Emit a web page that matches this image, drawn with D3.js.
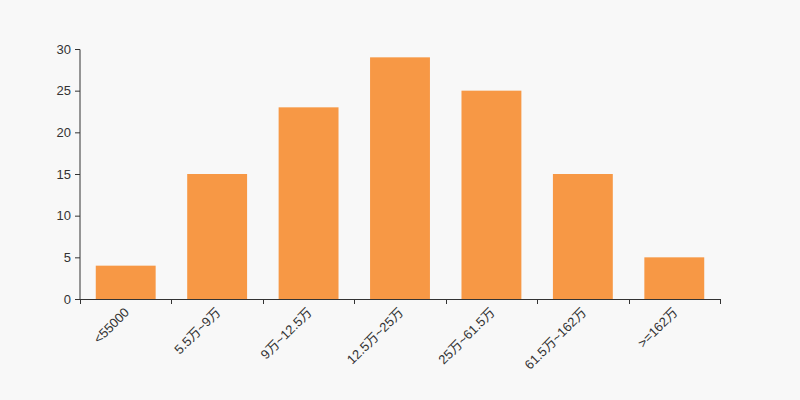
<!DOCTYPE html>
<html><head><meta charset="utf-8">
<script src="https://cdn.jsdelivr.net/npm/d3@7"></script>
<style>body{margin:0;background:#f8f8f8;}svg{display:block;font-family:"Liberation Sans",Arial,"Noto Sans CJK SC",sans-serif;}</style>
</head><body>
<svg id="c" width="800" height="400"></svg>
<script>
const categories = ["<55000","5.5万~9万","9万~12.5万","12.5万~25万","25万~61.5万","61.5万~162万",">=162万"];
const values = [4,15,23,29,25,15,5];
const yTicks = [0,5,10,15,20,25,30];

const svg = d3.select("#c");
svg.append("rect").attr("width",800).attr("height",400).attr("fill","#f8f8f8");
const m = {l:80, r:80, t:49, b:101};
const W = 800-m.l-m.r, H = 400-m.t-m.b;
const g = svg.append("g").attr("transform",`translate(${m.l},${m.t})`);
const x = d3.scaleBand().domain(categories).range([0,W]).paddingInner(0.345).paddingOuter(0.1725);
const y = d3.scaleLinear().domain([0,30]).range([H,0]);

g.selectAll("rect.bar").data(values).join("rect").attr("class","bar")
  .attr("x",(d,i)=>x(categories[i])).attr("width",x.bandwidth())
  .attr("y",d=>y(d)).attr("height",d=>H-y(d)).attr("fill","#f79845");

// y axis
const ya = g.append("g").call(d3.axisLeft(y).tickValues(yTicks).tickSize(5).tickPadding(4));
ya.select(".domain").attr("stroke","#333").attr("d",`M0,${H+0.5}V0.5`);
ya.selectAll(".tick line").attr("stroke","#333");
ya.selectAll("text").attr("fill","#333").style("font-size","13px");

// x axis with boundary ticks
const step = W/categories.length;
const xa = g.append("g").attr("transform",`translate(0,${H})`);
xa.append("line").attr("x1",0).attr("x2",W).attr("y1",0.5).attr("y2",0.5).attr("stroke","#333");
xa.selectAll("line.t").data(d3.range(categories.length+1)).join("line").attr("class","t")
  .attr("x1",i=>Math.round(i*step)+0.5).attr("x2",i=>Math.round(i*step)+0.5).attr("y1",0).attr("y2",5).attr("stroke","#333");
xa.selectAll("text").data(categories).join("text")
  .attr("transform",(d,i)=>`translate(${x(d)+x.bandwidth()/2+1},${11}) rotate(-45)`)
  .attr("text-anchor","end").attr("dy","0.35em").attr("fill","#333").style("font-size","13px").text(d=>d);
</script>
</body></html>
